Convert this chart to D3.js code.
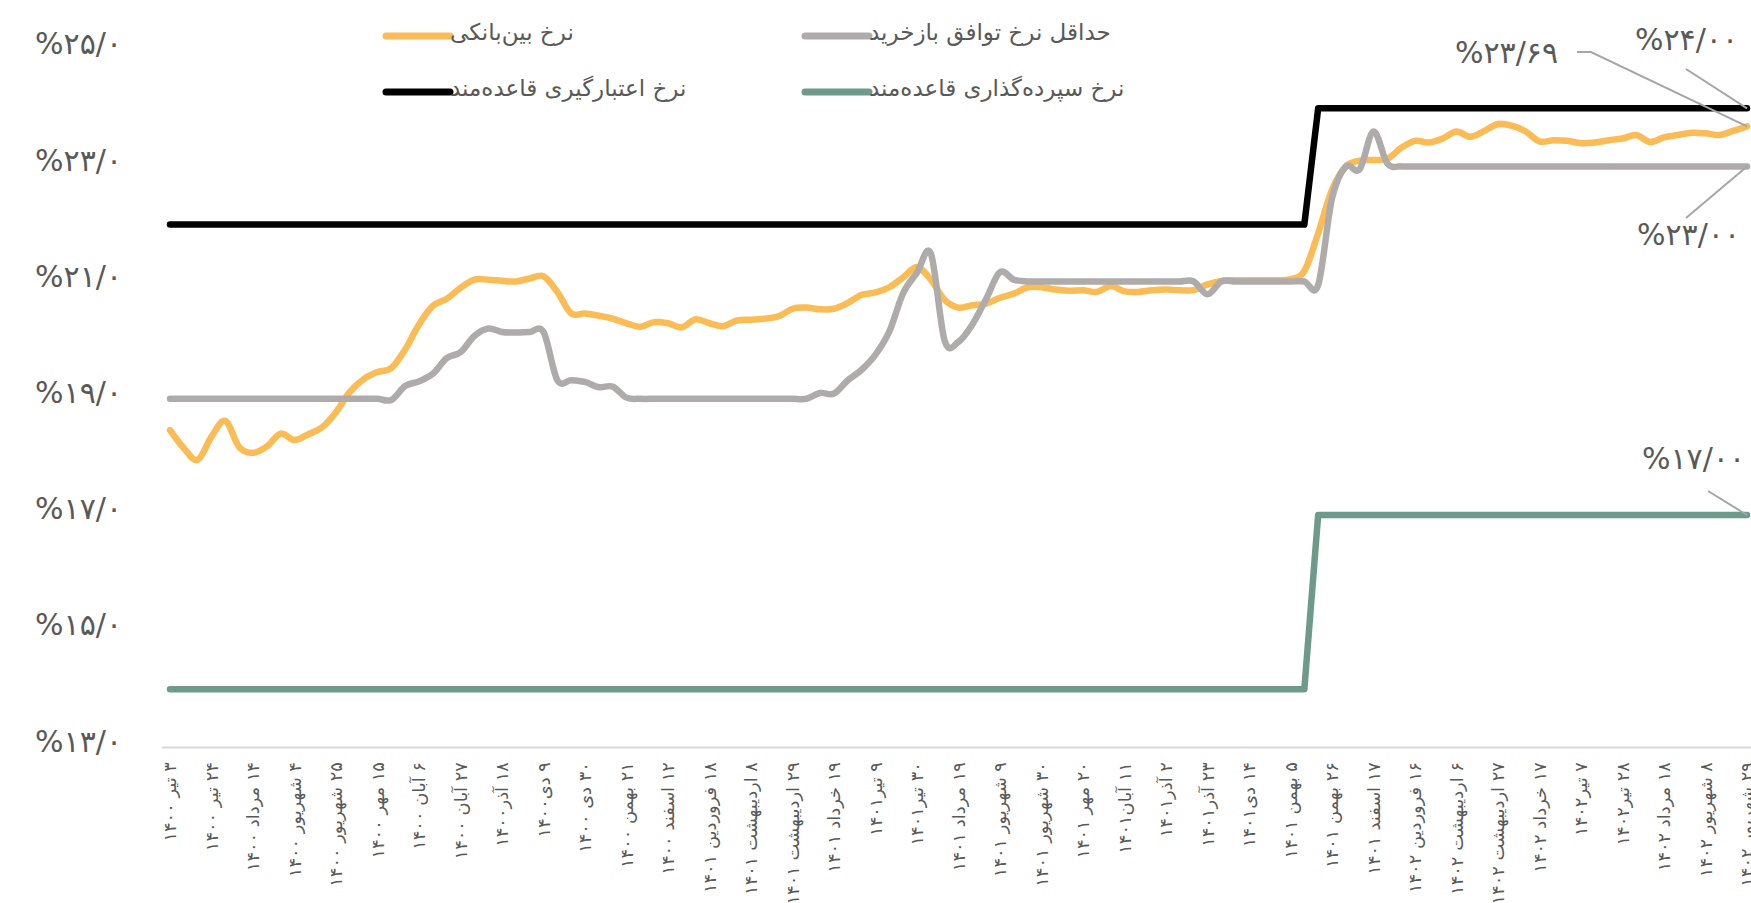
<!DOCTYPE html>
<html>
<head>
<meta charset="utf-8">
<script src="https://cdn.jsdelivr.net/npm/d3@7"></script>
<style>
  body { margin: 0; background: #fff; }
  svg { display: block; }
  text { font-family: "DejaVu Sans", sans-serif; fill: #595959; }
</style>
</head>
<body>
<svg id="chart" width="1751" height="903"></svg>
<script>
// weekly readings, 3 weeks between tick labels
const interbankRate = [
  18.46, 18.15, 17.95, 18.35, 18.62, 18.17, 18.07, 18.18, 18.40, 18.29,
  18.39, 18.51, 18.77, 19.12, 19.34, 19.46, 19.53, 19.85, 20.28, 20.60,
  20.72, 20.91, 21.05, 21.05, 21.03, 21.02, 21.07, 21.11, 20.84, 20.47,
  20.47, 20.43, 20.38, 20.30, 20.24, 20.32, 20.30, 20.23, 20.37, 20.30,
  20.25, 20.35, 20.36, 20.38, 20.42, 20.55, 20.57, 20.54, 20.55, 20.65,
  20.79, 20.83, 20.92, 21.09, 21.27, 21.05, 20.70, 20.57, 20.61, 20.64,
  20.74, 20.81, 20.92, 20.92, 20.88, 20.86, 20.87, 20.84, 20.94, 20.85,
  20.84, 20.87, 20.88, 20.87, 20.87, 20.97, 21.03, 21.04, 21.04, 21.04,
  21.04, 21.06, 21.20, 21.85, 22.60, 23.00, 23.10, 23.11, 23.13, 23.32,
  23.44, 23.41, 23.48, 23.60, 23.51, 23.61, 23.73, 23.70, 23.60, 23.43,
  23.45, 23.44, 23.40, 23.41, 23.45, 23.48, 23.54, 23.42, 23.50, 23.54,
  23.58, 23.57, 23.54, 23.61, 23.69
];

const minRepoRate = [
  19.00, 19.00, 19.00, 19.00, 19.00, 19.00, 19.00, 19.00, 19.00, 19.00,
  19.00, 19.00, 19.00, 19.00, 19.00, 19.00, 18.98, 19.22, 19.30, 19.43,
  19.70, 19.80, 20.08, 20.21, 20.15, 20.14, 20.15, 20.15, 19.32, 19.32,
  19.29, 19.20, 19.21, 19.02, 19.00, 19.00, 19.00, 19.00, 19.00, 19.00,
  19.00, 19.00, 19.00, 19.00, 19.00, 19.00, 19.00, 19.10, 19.09, 19.32,
  19.50, 19.76, 20.16, 20.82, 21.17, 21.50, 20.00, 19.98, 20.28, 20.72,
  21.18, 21.05, 21.02, 21.02, 21.02, 21.02, 21.02, 21.02, 21.02, 21.02,
  21.02, 21.02, 21.02, 21.02, 21.02, 20.80, 21.02, 21.02, 21.02, 21.02,
  21.02, 21.02, 21.02, 20.96, 22.45, 23.00, 22.95, 23.60, 23.05, 23.00,
  23.00, 23.00, 23.00, 23.00, 23.00, 23.00, 23.00, 23.00, 23.00, 23.00,
  23.00, 23.00, 23.00, 23.00, 23.00, 23.00, 23.00, 23.00, 23.00, 23.00,
  23.00, 23.00, 23.00, 23.00, 23.00
];

// standing facilities: value holds from the given week on
const rateChangeWeeks = [0, 83];
const lendingFacilityRate = [22, 24];
const depositFacilityRate = [14, 17];

const xLabels = [
  "۳ تیر ۱۴۰۰", "۲۴ تیر ۱۴۰۰", "۱۴ مرداد ۱۴۰۰", "۴ شهریور ۱۴۰۰", "۲۵ شهریور ۱۴۰۰",
  "۱۵ مهر ۱۴۰۰", "۶ آبان ۱۴۰۰", "۲۷ آبان ۱۴۰۰", "۱۸ آذر۱۴۰۰", "۹ دی۱۴۰۰",
  "۳۰ دی ۱۴۰۰", "۲۱ بهمن ۱۴۰۰", "۱۲ اسفند ۱۴۰۰", "۱۸ فروردین ۱۴۰۱", "۸ اردیبهشت ۱۴۰۱",
  "۲۹ اردیبهشت ۱۴۰۱", "۱۹ خرداد ۱۴۰۱", "۹ تیر۱۴۰۱", "۳۰ تیر۱۴۰۱", "۱۹ مرداد ۱۴۰۱",
  "۹ شهریور ۱۴۰۱", "۳۰ شهریور ۱۴۰۱", "۲۰ مهر ۱۴۰۱", "۱۱ آبان۱۴۰۱", "۲ آذر۱۴۰۱",
  "۲۳ آذر۱۴۰۱", "۱۴ دی۱۴۰۱", "۵ بهمن ۱۴۰۱", "۲۶ بهمن ۱۴۰۱", "۱۷ اسفند ۱۴۰۱",
  "۱۶ فروردین ۱۴۰۲", "۶ اردیبهشت ۱۴۰۲", "۲۷ اردیبهشت ۱۴۰۲", "۱۷ خرداد ۱۴۰۲", "۷ تیر۱۴۰۲",
  "۲۸ تیر۱۴۰۲", "۱۸ مرداد ۱۴۰۲", "۸ شهریور ۱۴۰۲", "۲۹ شهریور ۱۴۰۲"
];
const xLabelStep = 3;

const yTicks = [13, 15, 17, 19, 21, 23, 25];
const yTickLabels = ["%۱۳/۰", "%۱۵/۰", "%۱۷/۰", "%۱۹/۰", "%۲۱/۰", "%۲۳/۰", "%۲۵/۰"];

const seriesNames = [
  "نرخ بین‌بانکی",
  "حداقل نرخ توافق بازخرید",
  "نرخ اعتبارگیری قاعده‌مند",
  "نرخ سپرده‌گذاری قاعده‌مند"
];
const seriesColors = ["#FBBC55", "#AFABAB", "#000000", "#6E9A8A"];

const endLabels = ["%۲۳/۶۹", "%۲۴/۰۰", "%۲۳/۰۰", "%۱۷/۰۰"];

// ---------- layout
const WIDTH = 1751;
const AXIS_Y = 747.4;
const TEXT = "#595959";
const nWeeks = interbankRate.length;

const svg = d3.select("#chart");

const x = d3.scaleLinear().domain([0, nWeeks - 1]).range([170, 1747]);
const y = d3.scaleLinear().domain([13, 25]).range([AXIS_Y, 50.2]);

// step series -> line points
function stepPoints(values) {
  const pts = [];
  values.forEach((v, k) => {
    const start = rateChangeWeeks[k];
    const end = k + 1 < values.length ? rateChangeWeeks[k + 1] - 1 : nWeeks - 1;
    pts.push([start, v], [end, v]);
  });
  return pts;
}

// y axis
svg.append("g")
  .attr("transform", "translate(122,-6)")
  .call(d3.axisLeft(y).tickValues(yTicks).tickFormat((d, i) => yTickLabels[i]).tickSize(0).tickPadding(0))
  .call(g => g.select(".domain").remove())
  .selectAll("text")
  .attr("font-size", 30)
  .attr("font-family", "DejaVu Sans")
  .attr("fill", TEXT)
  .attr("direction", "ltr")
  .style("unicode-bidi", "bidi-override");

// x axis
svg.append("line")
  .attr("x1", 162).attr("x2", WIDTH)
  .attr("y1", AXIS_Y).attr("y2", AXIS_Y)
  .attr("stroke", "#D9D9D9").attr("stroke-width", 2);

const xAxis = svg.append("g")
  .attr("transform", `translate(0,${AXIS_Y})`)
  .call(d3.axisBottom(x)
    .tickValues(xLabels.map((d, i) => i * xLabelStep))
    .tickFormat((d, i) => xLabels[i])
    .tickSize(0));
xAxis.select(".domain").remove();
// the source font runs a bit wider than DejaVu, so stretch along the reading direction
xAxis.selectAll("text")
  .attr("font-size", 17)
  .attr("font-family", "DejaVu Sans")
  .attr("fill", TEXT)
  .attr("transform", "rotate(-90) scale(1.05,1)")
  .attr("x", -14)
  .attr("y", 0)
  .attr("dy", "0.35em")
  .attr("direction", "rtl")
  .attr("text-anchor", "start");

// lines
const smooth = d3.line()
  .x((d, i) => x(i))
  .y(d => y(d))
  .curve(d3.curveCardinal.tension(0));

const straight = d3.line()
  .x(d => x(d[0]))
  .y(d => y(d[1]));

const plot = svg.append("g")
  .attr("fill", "none")
  .attr("stroke-width", 6.5)
  .attr("stroke-linecap", "round")
  .attr("stroke-linejoin", "round");

plot.append("path").attr("d", smooth(interbankRate)).attr("stroke", seriesColors[0]);
plot.append("path").attr("d", smooth(minRepoRate)).attr("stroke", seriesColors[1]);
plot.append("path").attr("d", straight(stepPoints(lendingFacilityRate))).attr("stroke", seriesColors[2]);
plot.append("path").attr("d", straight(stepPoints(depositFacilityRate))).attr("stroke", seriesColors[3]);

// legend
const legendCols = [386, 805];
const legendRows = [36, 92];
const legend = svg.append("g");
seriesNames.forEach((name, i) => {
  const lx = legendCols[i % 2];
  const ly = legendRows[Math.floor(i / 2)];
  legend.append("line")
    .attr("x1", lx).attr("x2", lx + 64)
    .attr("y1", ly).attr("y2", ly)
    .attr("stroke", seriesColors[i])
    .attr("stroke-width", 7)
    .attr("stroke-linecap", "round");
  legend.append("text")
    .attr("x", lx + 64)
    .attr("y", ly + 4)
    .attr("font-size", 23)
    .attr("direction", "rtl")
    .attr("text-anchor", "end")
    .text(name);
});

// end-of-series labels with leader lines
const lastIdx = nWeeks - 1;
const endValues = [
  interbankRate[lastIdx],
  lendingFacilityRate[lendingFacilityRate.length - 1],
  minRepoRate[lastIdx],
  depositFacilityRate[depositFacilityRate.length - 1]
];
const endLabelPos = [[1558, 52], [1738, 39], [1740, 234], [1745, 458]];
const leaderStarts = [[[1577, 52], [1591, 52]], [[1686, 69]], [[1686, 218]], [[1708, 491]]];

const notes = svg.append("g");
endLabels.forEach((label, i) => {
  const pts = leaderStarts[i].concat([[x(lastIdx), y(endValues[i])]]);
  notes.append("path")
    .attr("d", d3.line()(pts))
    .attr("fill", "none")
    .attr("stroke", "#A6A6A6")
    .attr("stroke-width", 2);
  notes.append("text")
    .attr("x", endLabelPos[i][0])
    .attr("y", endLabelPos[i][1])
    .attr("dy", "0.35em")
    .attr("font-size", 30)
    .attr("text-anchor", "end")
    .attr("direction", "ltr")
    .style("unicode-bidi", "bidi-override")
    .text(label);
});
</script>
</body>
</html>
